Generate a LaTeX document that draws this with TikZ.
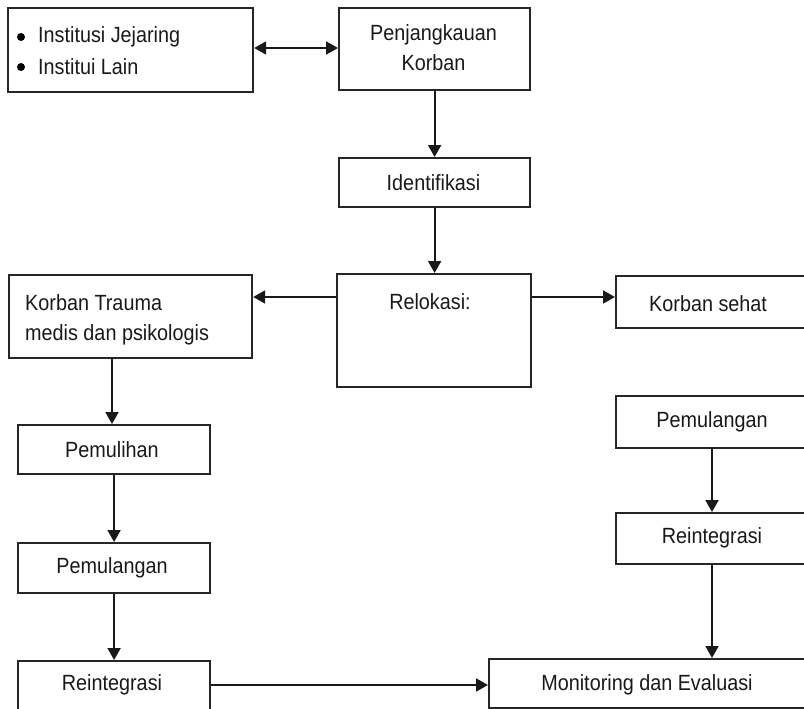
\documentclass[tikz,border=0pt]{standalone}
\usepackage{fontspec}
\setmainfont[FakeStretch=0.9]{Liberation Sans}
\usetikzlibrary{arrows.meta}
\begin{document}
\begin{tikzpicture}[x=1pt,y=-1pt,
  box/.style={draw=black!85, line width=2.2pt, anchor=north west, inner sep=0pt},
  txt/.style={font=\fontsize{22}{25}\selectfont, text=black!90, inner sep=0pt},
  dot/.style={circle, fill=black, inner sep=0pt, minimum size=8pt},
  conn/.style={line width=2pt, draw=black!90, -{Triangle[length=12pt,width=13pt]}},
  dconn/.style={line width=2pt, draw=black!90, {Triangle[length=12pt,width=13pt]}-{Triangle[length=12pt,width=13pt]}}]
\useasboundingbox (0,0) rectangle (804,709);
% boxes
\node[box, minimum width=245pt, minimum height=84pt] (inst) at (7,7) {};
\node[box, minimum width=191pt, minimum height=82pt] (peng) at (338,7) {};
\node[box, minimum width=191pt, minimum height=49pt] (ident) at (338,157) {};
\node[box, minimum width=194pt, minimum height=113pt] (relo) at (336,273) {};
\node[box, minimum width=243pt, minimum height=83pt] (trauma) at (8,274) {};
\node[box, minimum width=205pt, minimum height=52pt] (sehat) at (615,275) {};
\node[box, minimum width=192pt, minimum height=49pt] (pulih) at (17,424) {};
\node[box, minimum width=192pt, minimum height=50pt] (pulangL) at (17,542) {};
\node[box, minimum width=192pt, minimum height=50pt] (reintL) at (17,660) {};
\node[box, minimum width=330pt, minimum height=49pt] (monev) at (488,658) {};
\node[box, minimum width=205pt, minimum height=52pt] (pulangR) at (615,395) {};
\node[box, minimum width=205pt, minimum height=51pt] (reintR) at (615,512) {};
% texts
\node[dot] (b1) at (21,37) {};
\node[txt, anchor=west] (t1) at (38,37) {Institusi Jejaring};
\node[dot] (b2) at (21,67) {};
\node[txt, anchor=west] (t2) at (38,67) {Institui Lain};
\node[txt, align=center] (tpeng) at (433.5,48) {Penjangkauan\\[5pt]Korban};
\node[txt] (tident) at (433.5,183) {Identifikasi};
\node[txt] (trelo) at (430,302) {Relokasi:};
\node[txt, anchor=west] (ttr1) at (25,303) {Korban Trauma};
\node[txt, anchor=west] (ttr2) at (25,335) {medis dan psikologis};
\node[txt, anchor=west] (tsehat) at (649,304) {Korban sehat};
\node[txt] (tpulih) at (112,450) {Pemulihan};
\node[txt] (tpulangL) at (112,568) {Pemulangan};
\node[txt] (treintL) at (112,685) {Reintegrasi};
\node[txt] (tmonev) at (647,685) {Monitoring dan Evaluasi};
\node[txt] (tpulangR) at (712,422) {Pemulangan};
\node[txt] (treintR) at (712,538) {Reintegrasi};
% connectors
\draw[dconn] (inst.east |- 0,48) -- (peng.west |- 0,48);
\draw[conn] (peng.south) -- (ident.north);
\draw[conn] (ident.south) -- (ident.south |- relo.north);
\draw[conn] (relo.west |- 0,297) -- (trauma.east |- 0,297);
\draw[conn] (relo.east |- 0,297) -- (sehat.west |- 0,297);
\draw[conn] (112,357) -- (112,424);
\draw[conn] (pulih.south) -- (pulangL.north);
\draw[conn] (pulangL.south) -- (reintL.north);
\draw[conn] (reintL.east |- 0,685) -- (monev.west |- 0,685);
\draw[conn] (712,447) -- (712,512);
\draw[conn] (712,563) -- (712,658);
\end{tikzpicture}
\end{document}
